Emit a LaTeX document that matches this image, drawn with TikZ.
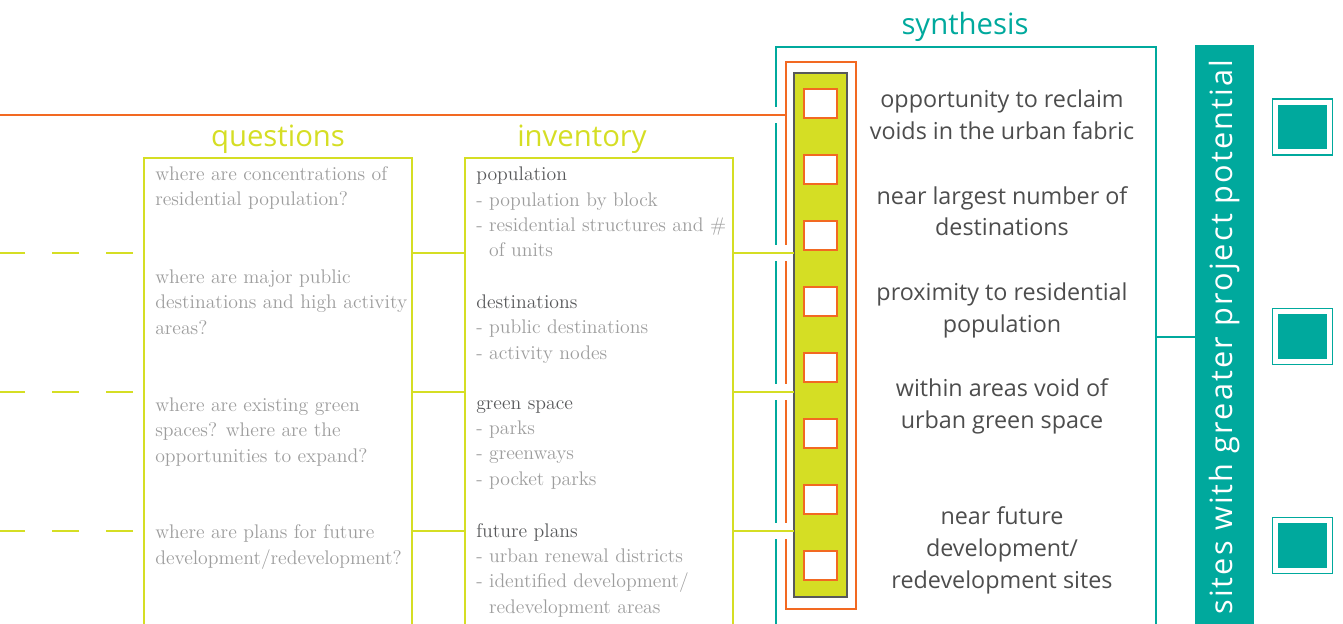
\documentclass[tikz,border=0pt]{standalone}
\usepackage{fontspec}
\setsansfont{Open Sans}
\newfontfamily\bandfont[LetterSpace=7]{Open Sans}

\definecolor{limeg}{HTML}{D5DE24}
\definecolor{tealc}{HTML}{00A99D}
\definecolor{orangec}{HTML}{F26922}
\definecolor{bargray}{HTML}{58595B}
\definecolor{lgray}{HTML}{9D9D9D}
\definecolor{hgray}{HTML}{58595B}
\definecolor{dgray}{HTML}{4D4D4D}

\begin{document}
\begin{tikzpicture}[x=0.75pt,y=-0.75pt]
	\tikzstyle{frame}=[inner sep=0pt,outer sep=0pt,anchor=north west]
	\tikzstyle{colbox}=[frame,draw=limeg,line width=2pt,minimum width=201pt,minimum height=375pt]
	\tikzstyle{cell}=[draw=orangec,fill=white,line width=1.9pt,minimum width=24.75pt,minimum height=21.75pt,inner sep=0pt]
	\tikzstyle{tsq}=[draw=tealc,double=white,double distance=3.75pt,line width=1.1pt,fill=tealc,minimum width=40.5pt,minimum height=37.1pt,inner sep=0pt]
	\tikzstyle{title}=[font=\sffamily\fontsize{22}{26}\selectfont,anchor=base,inner sep=0pt]
	\tikzstyle{qtext}=[font=\fontsize{14.8}{19}\selectfont,text=lgray,align=left,anchor=base west,inner sep=0pt]
	\tikzstyle{stext}=[font=\sffamily\fontsize{17.5}{24}\selectfont,text=dgray,align=center,anchor=base,inner sep=0pt]
	\tikzstyle{link}=[draw=limeg,line width=1.8pt]
	\tikzstyle{gaplink}=[link,preaction={draw=white,line width=12pt,shorten <=4pt,shorten >=3.4pt}]
	\useasboundingbox (0,0) rectangle (1343,624);
	\clip (0,0) rectangle (1343,624);

	% boxes
	\node[frame,draw=tealc,line width=1.5pt,minimum width=285pt,minimum height=500pt](syn) at (776,47){};
	\node[frame,draw=orangec,line width=1.9pt,minimum width=52.5pt,minimum height=410.25pt](ofr) at (786,62){};
	\node[frame,draw=bargray,fill=limeg,line width=2.2pt,minimum width=39.75pt,minimum height=393pt](bar) at (794,73){};
	\node[colbox](q) at (144,158){};
	\node[colbox](inv) at (465,158){};
	\node[fill=tealc,text=white,rotate=90,inner sep=0pt,minimum width=438pt,minimum height=44.25pt,font=\bandfont\fontsize{23}{27}\selectfont](band) at (1224.5,337){sites with greater project potential};

	% cells in the bar
	\node[cell](c1) at (820.5,103.5){};
	\node[cell](c2) at (820.5,169.5){};
	\node[cell](c3) at (820.5,235.5){};
	\node[cell](c4) at (820.5,301.5){};
	\node[cell](c5) at (820.5,367.5){};
	\node[cell](c6) at (820.5,433.5){};
	\node[cell](c7) at (820.5,499.5){};
	\node[cell](c8) at (820.5,565.5){};

	\node[tsq](s1) at (1302.5,127){};
	\node[tsq](s2) at (1302.5,336.5){};
	\node[tsq](s3) at (1302.5,545.5){};

	% titles
	\node[title,text=limeg](tq) at (278,147){questions};
	\node[title,text=limeg](ti) at (582,147){inventory};
	\node[title,text=tealc](ts) at (965,35){synthesis};

	% questions (anchored on the last line)
	\node[qtext](q1) at (155,206){where are concentrations of\\residential population?};
	\node[qtext](q2) at (155,334){where are major public\\destinations and high activity\\areas?};
	\node[qtext](q3) at (155,462){where are existing green\\spaces? where are the\\opportunities to expand?};
	\node[qtext](q4) at (155,564){where are plans for future\\development/redevelopment?};

	% inventory
	\node[qtext](i1) at (476,257){{\color{hgray}population}\\- population by block\\- residential structures and \#\\\phantom{- }of units};
	\node[qtext](i2) at (476,359){{\color{hgray}destinations}\\- public destinations\\- activity nodes};
	\node[qtext](i3) at (476,485){{\color{hgray}green space}\\- parks\\- greenways\\- pocket parks};
	\node[qtext](i4) at (476,613){{\color{hgray}future plans}\\- urban renewal districts\\- identified development/\\\phantom{- }redevelopment areas};

	% synthesis
	\node[stext](t1) at (1002,140){opportunity to reclaim\\voids in the urban fabric};
	\node[stext](t2) at (1002,236){near largest number of\\destinations};
	\node[stext](t3) at (1002,332){proximity to residential\\population};
	\node[stext](t4) at (1002,428){within areas void of\\urban green space};
	\node[stext](t5) at (1002,588){near future\\development/\\redevelopment sites};

	% links
	\coordinate (o0) at (0,115);
	\coordinate (l1) at (0,253);
	\coordinate (l2) at (0,392);
	\coordinate (l3) at (0,531);
	\draw[orangec,line width=1.8pt,preaction={draw=white,line width=12pt,shorten >=4.5pt}] (o0) -- (ofr.west |- o0);
	\draw[link,dash pattern=on 20.25pt off 20.25pt,dash phase=32.25pt] (q.west |- l1) -- (l1);
	\draw[link,dash pattern=on 20.25pt off 20.25pt,dash phase=32.25pt] (q.west |- l2) -- (l2);
	\draw[link,dash pattern=on 20.25pt off 20.25pt,dash phase=32.25pt] (q.west |- l3) -- (l3);
	\draw[link] (q.east |- l1) -- (inv.west |- l1);
	\draw[link] (q.east |- l2) -- (inv.west |- l2);
	\draw[link] (q.east |- l3) -- (inv.west |- l3);
	\draw[gaplink] (inv.east |- l1) -- (bar.west |- l1);
	\draw[gaplink] (inv.east |- l2) -- (bar.west |- l2);
	\draw[gaplink] (inv.east |- l3) -- (bar.west |- l3);
	\draw[tealc,line width=1.5pt] (syn.east |- s2) -- (band.north |- s2);
\end{tikzpicture}
\end{document}
